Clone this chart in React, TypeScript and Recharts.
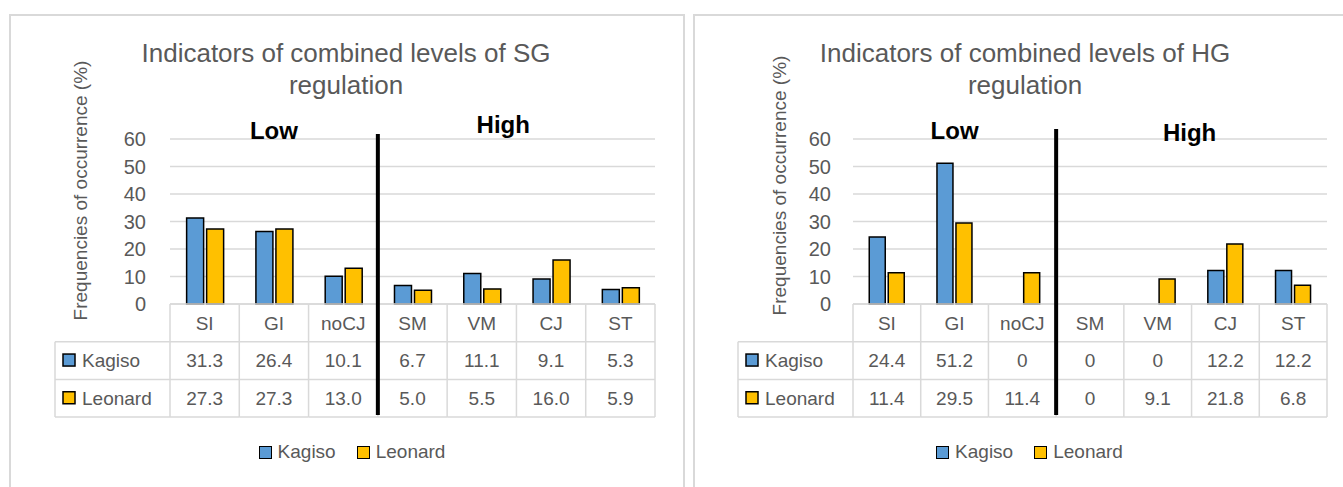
import { Bar, BarChart, CartesianGrid, Legend, XAxis, YAxis } from "recharts";

const categories = ["SI", "GI", "noCJ", "SM", "VM", "CJ", "ST"];
const seriesNames = ["Kagiso", "Leonard"];
const sgKagiso = [31.3, 26.4, 10.1, 6.7, 11.1, 9.1, 5.3];
const sgLeonard = [27.3, 27.3, 13.0, 5.0, 5.5, 16.0, 5.9];
const hgKagiso = [24.4, 51.2, 0, 0, 0, 12.2, 12.2];
const hgLeonard = [11.4, 29.5, 11.4, 0, 9.1, 21.8, 6.8];
const yTicks = [0, 10, 20, 30, 40, 50, 60];

const FONT = '"Liberation Sans", Arial, sans-serif';
const TEXT = "#595959";
const GRID = "#d9d9d9";
const BLUE = "#5B9BD5";
const GOLD = "#FFC000";

const CHART_H = 487;
const PLOT_TOP = 139;
const PLOT_BOTTOM = 304;
const PLOT_H = PLOT_BOTTOM - PLOT_TOP;
const ROW_H = 37.7;
const TABLE_H = ROW_H * 3;
const Y_AXIS_W = 110;
const LABEL_COL_W = 115;

const fmt = (v: number) => (v === 0 ? "0" : v.toFixed(1));

function TableTick(props: any) {
  const { x, y, payload, kagiso, leonard, colW, highShift, highBase, lineTop } = props;
  const i = payload.index;
  const half = colW / 2;
  const left = x - half;
  const right = x + half;
  const txt = { fill: TEXT, fontSize: 19, fontFamily: FONT, textAnchor: "middle" as const };
  return (
    <g>
      {[0, 1, 2, 3].map((r) => (
        <line key={r} x1={left} x2={right} y1={y + r * ROW_H} y2={y + r * ROW_H} stroke={GRID} strokeWidth={1.5} />
      ))}
      <line x1={left} x2={left} y1={y} y2={y + TABLE_H} stroke={GRID} strokeWidth={1.5} />
      {i === categories.length - 1 && (
        <line x1={right} x2={right} y1={y} y2={y + TABLE_H} stroke={GRID} strokeWidth={1.5} />
      )}
      <text x={x} y={y + ROW_H / 2} dy="0.36em" {...txt}>{payload.value}</text>
      <text x={x} y={y + ROW_H * 1.5} dy="0.36em" {...txt}>{fmt(kagiso[i])}</text>
      <text x={x} y={y + ROW_H * 2.5} dy="0.36em" {...txt}>{fmt(leonard[i])}</text>
      {i === 0 && (
        <g>
          {[1, 2, 3].map((r) => (
            <line key={r} x1={left - LABEL_COL_W} x2={left} y1={y + r * ROW_H} y2={y + r * ROW_H} stroke={GRID} strokeWidth={1.5} />
          ))}
          <line x1={left - LABEL_COL_W} x2={left - LABEL_COL_W} y1={y + ROW_H} y2={y + TABLE_H} stroke={GRID} strokeWidth={1.5} />
          {seriesNames.map((n, k) => (
            <g key={n}>
              <rect x={left - LABEL_COL_W + 8} y={y + ROW_H * (1.5 + k) - 6.5} width={12} height={12} fill={k === 0 ? BLUE : GOLD} stroke="#000" strokeWidth={1.5} />
              <text x={left - LABEL_COL_W + 27} y={y + ROW_H * (1.5 + k)} dy="0.36em" fill={TEXT} fontSize={19} fontFamily={FONT}>{n}</text>
            </g>
          ))}
        </g>
      )}
      {i === 1 && (
        <text x={x} y={y - PLOT_H} fontSize={24} fontWeight="bold" fontFamily={FONT} fill="#000" textAnchor="middle">Low</text>
      )}
      {i === 4 && (
        <text x={x + colW * highShift} y={y - PLOT_H + highBase} fontSize={24} fontWeight="bold" fontFamily={FONT} fill="#000" textAnchor="middle">High</text>
      )}
      {i === 3 && (
        <line x1={left} x2={left} y1={y - PLOT_H - lineTop} y2={y + TABLE_H - 2} stroke="#000" strokeWidth={4} />
      )}
    </g>
  );
}

function YLabel(props: any) {
  const { viewBox, dx, dy } = props;
  const cx = viewBox.x + dx;
  const cy = viewBox.y + viewBox.height / 2 + dy;
  return (
    <text x={cx} y={cy} transform={`rotate(-90, ${cx}, ${cy})`} textAnchor="middle" dominantBaseline="central" fill={TEXT} fontSize={19} fontFamily={FONT}>
      Frequencies of occurrence (%)
    </text>
  );
}

function LegendRow({ shift }: { shift: number }) {
  return (
    <div style={{ display: "flex", justifyContent: "center", alignItems: "center", transform: `translateX(${shift}px)`, fontFamily: FONT, fontSize: 19, color: TEXT }}>
      {seriesNames.map((n, k) => (
        <span key={n} style={{ display: "flex", alignItems: "center", marginRight: k === 0 ? 21 : 0 }}>
          <span style={{ display: "inline-block", width: 13, height: 13, boxSizing: "border-box", border: "1.5px solid #000", background: k === 0 ? BLUE : GOLD, marginRight: 6 }} />
          {n}
        </span>
      ))}
    </div>
  );
}

interface PanelProps {
  title: string[];
  kagiso: number[];
  leonard: number[];
  left: number;
  width: number;
  plotLeft: number;
  plotRight: number;
  yTickMargin: number;
  yLabelDx: number;
  yLabelDy: number;
  highShift: number;
  highBase: number;
  lineTop: number;
  legendShift: number;
  titleCenter: number;
}

function Panel(p: PanelProps) {
  const rows = categories.map((c, i) => ({ cat: c, Kagiso: p.kagiso[i], Leonard: p.leonard[i] }));
  const colW = (p.plotRight - p.plotLeft) / categories.length;
  return (
    <>
      <div style={{ position: "absolute", left: p.titleCenter - 300, top: 37, width: 600, textAlign: "center", fontFamily: FONT, fontSize: 26, lineHeight: "32px", color: TEXT }}>
        {p.title.map((t) => (
          <div key={t}>{t}</div>
        ))}
      </div>
      <div style={{ position: "absolute", left: p.left, top: 0 }}>
        <BarChart
          width={p.width}
          height={CHART_H}
          data={rows}
          margin={{ top: PLOT_TOP, bottom: CHART_H - PLOT_BOTTOM - TABLE_H, left: p.plotLeft - Y_AXIS_W, right: p.width - p.plotRight }}
          barCategoryGap="24%"
          barGap={3}
        >
          <CartesianGrid vertical={false} stroke={GRID} strokeWidth={1.5} />
          <XAxis
            dataKey="cat"
            height={TABLE_H}
            interval={0}
            axisLine={false}
            tickLine={false}
            tickSize={0}
            tickMargin={0}
            tick={<TableTick kagiso={p.kagiso} leonard={p.leonard} colW={colW} highShift={p.highShift} highBase={p.highBase} lineTop={p.lineTop} />}
          />
          <YAxis
            width={Y_AXIS_W}
            domain={[0, 60]}
            ticks={yTicks}
            interval={0}
            axisLine={false}
            tickLine={false}
            tickMargin={p.yTickMargin}
            tick={{ fill: TEXT, fontSize: 20, fontFamily: FONT }}
            label={<YLabel dx={p.yLabelDx} dy={p.yLabelDy} />}
          />
          <Legend
            layout="vertical"
            align="center"
            verticalAlign="middle"
            wrapperStyle={{ top: 441, left: 0, width: p.width }}
            content={() => <LegendRow shift={p.legendShift} />}
          />
          <Bar dataKey="Kagiso" fill={BLUE} stroke="#000" strokeWidth={1.5} isAnimationActive={false} />
          <Bar dataKey="Leonard" fill={GOLD} stroke="#000" strokeWidth={1.5} isAnimationActive={false} />
        </BarChart>
      </div>
    </>
  );
}

export default function App() {
  return (
    <div style={{ position: "absolute", left: 0, top: 0, width: 1343, height: 487, overflow: "hidden", background: "#fff", fontFamily: FONT }}>
      <div style={{ position: "absolute", left: 9, top: 14, width: 676, height: 520, border: `2px solid ${GRID}`, boxSizing: "border-box" }} />
      <div style={{ position: "absolute", left: 693, top: 14, width: 700, height: 520, border: `2px solid ${GRID}`, boxSizing: "border-box" }} />
      <Panel
        title={["Indicators of combined levels of SG", "regulation"]}
        kagiso={sgKagiso}
        leonard={sgLeonard}
        left={0}
        width={690}
        plotLeft={170}
        plotRight={655}
        yTickMargin={18}
        yLabelDx={20}
        yLabelDy={-31}
        highShift={0.31}
        highBase={-6}
        lineTop={5}
        legendShift={7}
        titleCenter={346}
      />
      <Panel
        title={["Indicators of combined levels of HG", "regulation"]}
        kagiso={hgKagiso}
        leonard={hgLeonard}
        left={690}
        width={653}
        plotLeft={163}
        plotRight={637}
        yTickMargin={16}
        yLabelDx={36}
        yLabelDy={-36}
        highShift={0.47}
        highBase={2}
        lineTop={10}
        legendShift={13}
        titleCenter={1025}
      />
    </div>
  );
}
